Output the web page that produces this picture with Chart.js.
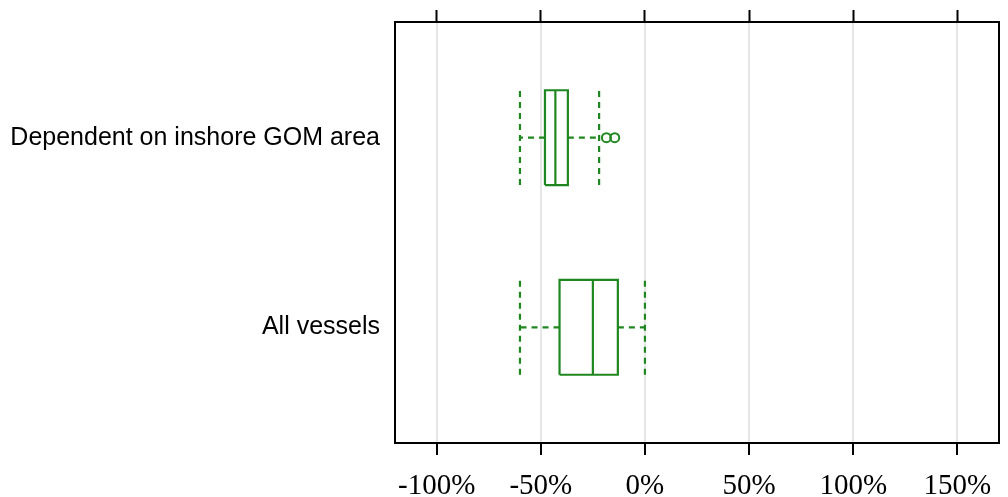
<!DOCTYPE html>
<html>
<head>
<meta charset="utf-8">
<script src="https://cdn.jsdelivr.net/npm/chart.js@4/dist/chart.umd.min.js"></script>
<style>
  html, body { margin: 0; padding: 0; background: #fff; }
  #wrap { width: 1008px; height: 497px; }
</style>
</head>
<body>
<div id="wrap"><canvas id="box"></canvas></div>
<script>
// data (percent change)
const categories = ['Dependent on inshore GOM area', 'All vessels'];
const whiskerLow = [-60, -60];
const lowerQuartile = [-48, -41];
const medians = [-43, -25];
const upperQuartile = [-37, -13];
const whiskerHigh = [-22, 0];
const outliers = [[-18.5, -14.5], []];
const xTicks = [-100, -50, 0, 50, 100, 150];

const green = '#1f871f';
const half = 0.25;

function line(points, dashed){
    return {
        type: 'line',
        data: points,
        showLine: true,
        spanGaps: false,
        borderColor: green,
        borderWidth: 2.2,
        borderDash: dashed ? [6, 5] : [],
        pointRadius: 0,
        fill: false
    };
}

var datasets = [];
categories.map((name, i) => {
    var c = categories.length - i;
    // box
    datasets.push(line([
        {x: lowerQuartile[i], y: c - half}, {x: upperQuartile[i], y: c - half},
        {x: upperQuartile[i], y: c + half}, {x: lowerQuartile[i], y: c + half},
        {x: lowerQuartile[i], y: c - half}
    ], false));
    // median
    datasets.push(line([{x: medians[i], y: c - half}, {x: medians[i], y: c + half}], false));
    // whiskers
    datasets.push(line([{x: lowerQuartile[i], y: c}, {x: whiskerLow[i], y: c}], true));
    datasets.push(line([{x: whiskerLow[i], y: c - half}, {x: whiskerLow[i], y: c + half}], true));
    datasets.push(line([{x: upperQuartile[i], y: c}, {x: whiskerHigh[i], y: c}], true));
    datasets.push(line([{x: whiskerHigh[i], y: c - half}, {x: whiskerHigh[i], y: c + half}], true));
    // outliers
    if (outliers[i].length) {
        datasets.push({
            type: 'scatter',
            data: outliers[i].map(v => ({x: v, y: c})),
            pointStyle: 'circle',
            pointRadius: 4.5,
            pointBorderWidth: 2,
            pointBorderColor: green,
            pointBackgroundColor: 'rgba(0,0,0,0)'
        });
    }
});

const ctx = document.getElementById('box').getContext('2d');
const myChart = new Chart(ctx, {
    type: 'scatter',
    data: { datasets: datasets },
    options: {
        responsive: true,
        maintainAspectRatio: false,
        animation: false,
        layout: { padding: { top: 10, right: 9, left: 0, bottom: 0 } },
        plugins: { legend: { display: false }, tooltip: { enabled: false } },
        scales: {
            x: {
                type: 'linear',
                position: 'bottom',
                min: -120,
                max: 170,
                afterBuildTicks: (scale) => { scale.ticks = xTicks.map(v => ({value: v})); },
                afterFit: (scale) => { scale.height = 54; },
                grid: {
                    color: '#e6e6e6',
                    lineWidth: 2,
                    tickColor: '#000',
                    tickWidth: 2,
                    tickLength: 12
                },
                border: { display: true, color: '#000', width: 2 },
                ticks: {
                    padding: 14,
                    color: '#000',
                    maxRotation: 0,
                    autoSkip: false,
                    font: { family: '"Liberation Serif", "Times New Roman", serif', size: 29 },
                    callback: (v) => v + '%'
                }
            },
            x2: {
                type: 'linear',
                position: 'top',
                display: true,
                min: -120,
                max: 170,
                afterBuildTicks: (scale) => { scale.ticks = xTicks.map(v => ({value: v})); },
                afterFit: (scale) => { scale.height = 12; },
                grid: {
                    drawOnChartArea: false,
                    tickColor: '#000',
                    tickWidth: 2,
                    tickLength: 12
                },
                border: { display: true, color: '#000', width: 2 },
                ticks: { display: false }
            },
            y: {
                type: 'linear',
                position: 'left',
                min: 0.39,
                max: 2.61,
                afterBuildTicks: (scale) => { scale.ticks = [{value: 1}, {value: 2}]; },
                afterFit: (scale) => { scale.width = 395; },
                grid: { display: false },
                border: { display: true, color: '#000', width: 2 },
                ticks: {
                    padding: 7,
                    color: '#000',
                    font: { family: '"Liberation Sans", Arial, sans-serif', size: 25 },
                    callback: (v) => categories[categories.length - v]
                }
            },
            y2: {
                type: 'linear',
                position: 'right',
                display: true,
                min: 0.39,
                max: 2.61,
                afterFit: (scale) => { scale.width = 0; },
                grid: { display: false },
                border: { display: true, color: '#000', width: 2 },
                ticks: { display: false }
            }
        }
    }
});
</script>
</body>
</html>
